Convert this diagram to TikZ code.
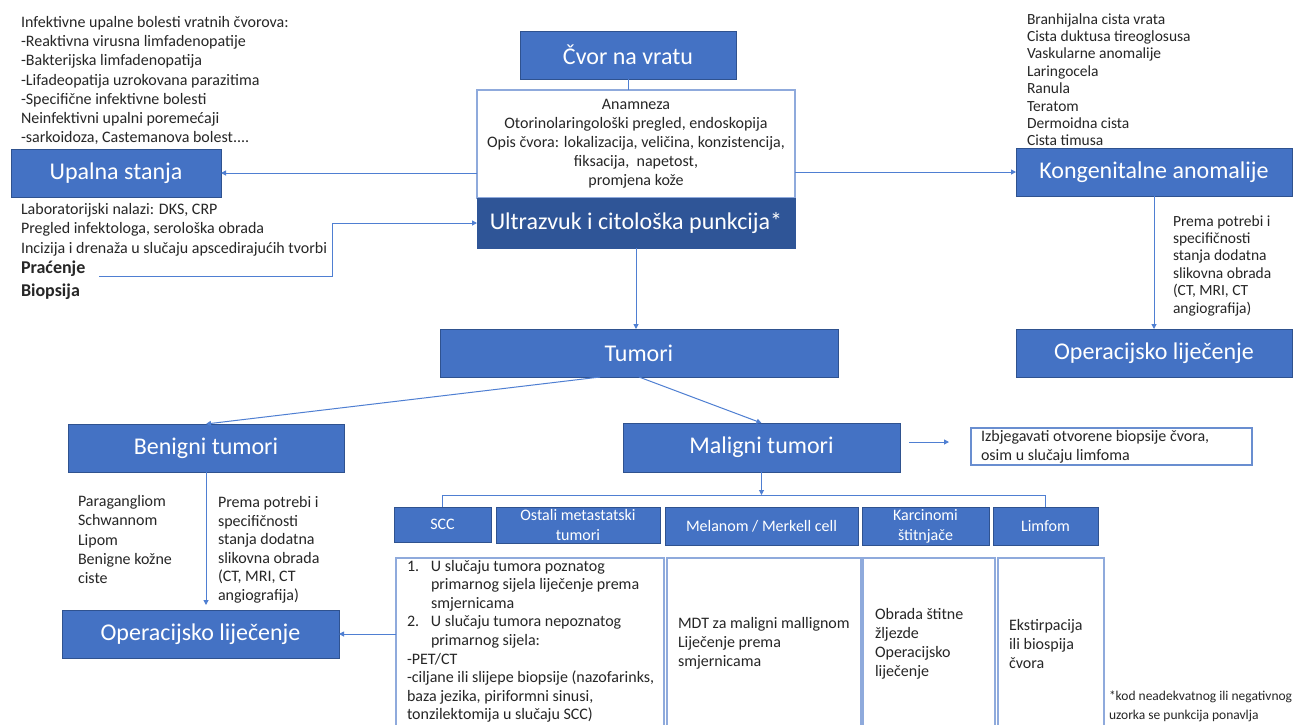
\documentclass[tikz,border=0pt]{standalone}
\usepackage{fontspec}
\setmainfont{Carlito}
\usetikzlibrary{arrows.meta}
\definecolor{bfill}{HTML}{4472C4}
\definecolor{bdraw}{HTML}{2F528F}
\definecolor{dfill}{HTML}{2F5597}
\definecolor{lbord}{HTML}{8FAADC}
\definecolor{conncol}{HTML}{4F7FD2}
\definecolor{txt}{HTML}{262626}
\newcommand{\fsz}[2]{\fontsize{#1}{#2}\selectfont}
\begin{document}
\begin{tikzpicture}[x=1pt,y=-1pt,
  bluebox/.style={draw=bdraw,line width=0.6pt,fill=bfill,text=white,inner sep=0pt,outer sep=0pt,anchor=north west,align=center,font=\fsz{24}{28}},
  smallbox/.style={bluebox,font=\fsz{16}{19}},
  darkbox/.style={bluebox,fill=dfill,draw=dfill},
  whitebox/.style={draw=lbord,line width=1.6pt,fill=white,inner sep=0pt,outer sep=0pt,anchor=north west},
  txtn/.style={text=txt,inner sep=0pt,outer sep=0pt,anchor=north west,align=left,font=\fsz{16}{19}},
  conn/.style={draw=conncol,line width=1pt},
  arr/.style={conn,-{Triangle[length=5pt,width=5pt]}},
]
\path[use as bounding box,clip] (0,0) rectangle (1293,724);
\fill[white] (0,0) rectangle (1293,724);

% top
\node[bluebox,minimum width=216pt,minimum height=48pt] (cvor) at (520,31) {Čvor na vratu};
\node[whitebox,minimum width=318pt,minimum height=108pt,font=\fsz{16}{19},align=center,text=txt] (opis) at (477,90)
  {Anamneza\\ Otorinolaringološki pregled, endoskopija\\ Opis čvora: lokalizacija, veličina, konzistencija,\\ fiksacija,\ \ napetost,\\ promjena kože};
\node[darkbox,minimum width=318pt,minimum height=50pt] (ultra) at (477,198) {Ultrazvuk i citološka punkcija*};

% left upper
\node[txtn,font=\fsz{16}{19.2}] (tl) at (21,14) {\strut Infektivne upalne bolesti vratnih čvorova:\\ -Reaktivna virusna limfadenopatije\\ -Bakterijska limfadenopatija\\ -Lifadeopatija uzrokovana parazitima\\ -Specifične infektivne bolesti\\ Neinfektivni upalni poremećaji\\ -sarkoidoza, Castemanova bolest....};
\node[bluebox,minimum width=210pt,minimum height=48pt] (upal) at (11,149) {Upalna stanja};
\node[txtn,font=\fsz{16}{19.4}] (ul) at (21,201) {\strut Laboratorijski nalazi: DKS, CRP\\ Pregled infektologa, serološka obrada\\ Incizija i drenaža u slučaju apscedirajućih tvorbi};
\node[txtn,anchor=base west,font=\bfseries\fsz{18}{22}] (prac) at (21,273) {Praćenje};
\node[txtn,anchor=base west,font=\bfseries\fsz{18}{22}] (biop) at (21,296) {Biopsija};
\coordinate (pstart) at (99,276);

% right upper
\node[txtn,font=\fsz{15.5}{17.4}] (rl) at (1027,12) {\strut Branhijalna cista vrata\\ Cista duktusa tireoglosusa\\ Vaskularne anomalije\\ Laringocela\\ Ranula\\ Teratom\\ Dermoidna cista\\ Cista timusa};
\node[bluebox,minimum width=276pt,minimum height=48pt] (kong) at (1016,148) {Kongenitalne anomalije};
\node[txtn,font=\fsz{15.5}{17.4}] (rp) at (1173,214) {\strut Prema potrebi i\\ specifičnosti\\ stanja dodatna\\ slikovna obrada\\ (CT, MRI, CT\\ angiografija)};
\node[bluebox,minimum width=276pt,minimum height=48pt] (opR) at (1016,329) {Operacijsko liječenje};

% tumori
\node[bluebox,minimum width=398pt,minimum height=48pt] (tum) at (440,329) {Tumori};
\node[bluebox,minimum width=276pt,minimum height=48pt] (benig) at (68,424) {Benigni tumori};
\node[bluebox,minimum width=277pt,minimum height=49pt] (malig) at (623,423) {Maligni tumori};
\node[whitebox,minimum width=281pt,minimum height=37pt,draw=bfill!80,line width=1.4pt] (izbj) at (971,428) {};
\node[txtn,anchor=west] (izbjt) at (981,446.5) {Izbjegavati otvorene biopsije čvora,\\ osim u slučaju limfoma};

% benigni
\node[txtn,font=\fsz{16}{19.3}] (bl) at (78,493) {\strut Paragangliom\\ Schwannom\\ Lipom\\ Benigne kožne\\ ciste};
\node[txtn,font=\fsz{16}{18.5}] (br) at (218,495) {\strut Prema potrebi i\\ specifičnosti\\ stanja dodatna\\ slikovna obrada\\ (CT, MRI, CT\\ angiografija)};
\node[bluebox,minimum width=277pt,minimum height=48pt] (opL) at (62,610) {Operacijsko liječenje};

% maligni row
\node[smallbox,minimum width=97pt,minimum height=35pt] (scc) at (394,507) {SCC};
\node[smallbox,minimum width=164pt,minimum height=36pt,font=\fsz{16}{20}] (ost) at (496,507) {Ostali metastatski\\ tumori};
\node[smallbox,minimum width=193pt,minimum height=38pt] (mel) at (665,507) {Melanom / Merkell cell};
\node[smallbox,minimum width=127pt,minimum height=38pt,font=\fsz{16}{20}] (karc) at (862,507) {Karcinomi\\ štitnjače};
\node[smallbox,minimum width=105pt,minimum height=38pt] (limf) at (993,507) {Limfom};

\node[whitebox,minimum width=268pt,minimum height=180pt] (box1) at (396,558) {};
\node[whitebox,minimum width=194pt,minimum height=180pt] (box2) at (667,558) {};
\node[whitebox,minimum width=132pt,minimum height=180pt] (box3) at (863,558) {};
\node[whitebox,minimum width=106pt,minimum height=180pt] (box4) at (998,558) {};

\node[txtn,font=\fsz{16}{18.6}] (t1) at (407,558) {\strut\makebox[24pt][l]{1.}U slučaju tumora poznatog\\ \hspace*{24pt}primarnog sijela liječenje prema\\ \hspace*{24pt}smjernicama\\ \makebox[24pt][l]{2.}U slučaju tumora nepoznatog\\ \hspace*{24pt}primarnog sijela:\\ -PET/CT\\ -ciljane ili slijepe biopsije (nazofarinks,\\ baza jezika, piriformni sinusi,\\ tonzilektomija u slučaju SCC)};
\node[txtn,anchor=west] (t2) at (678,643) {MDT za maligni mallignom\\ Liječenje prema\\ smjernicama};
\node[txtn,anchor=west] (t3) at (875,644) {Obrada štitne\\ žljezde\\ Operacijsko\\ liječenje};
\node[txtn,anchor=west] (t4) at (1009,644) {Ekstirpacija\\ ili biospija\\ čvora};
\node[txtn,font=\fsz{13.5}{19}] (fn) at (1109,687) {\strut *kod neadekvatnog ili negativnog\\ uzorka se punkcija ponavlja};

% connectors
\draw[conn] (cvor.south) -- (cvor.south |- opis.north);
\draw[arr] (opis.west |- upal.east) -- (upal.east);
\draw[arr] (opis.east |- kong.west) -- (kong.west);
\draw[arr] (pstart) -- ++(233,0) |- (ultra.west);
\draw[arr] (ultra.south) -- (ultra.south |- tum.north);
\draw[arr] (kong.south) -- (opR.north);
\draw[arr] ([xshift=-39pt]tum.south) -- (benig.north);
\draw[arr] (tum.south) -- (malig.north);
\draw[arr] ([xshift=9pt,yshift=5.5pt]malig.east) -- ([xshift=-22pt,yshift=4.5pt]izbj.west);
\coordinate (busy) at (0,495);
\draw[conn] (scc.north) |- (busy -| limf.north) -- (limf.north);
\draw[arr] (malig.south) -- (malig.south |- busy);
\draw[arr,shorten >=5pt] (benig.south) -- (benig.south |- opL.north);
\draw[arr] (box1.west |- opL.east) -- (opL.east);
\end{tikzpicture}
\end{document}
